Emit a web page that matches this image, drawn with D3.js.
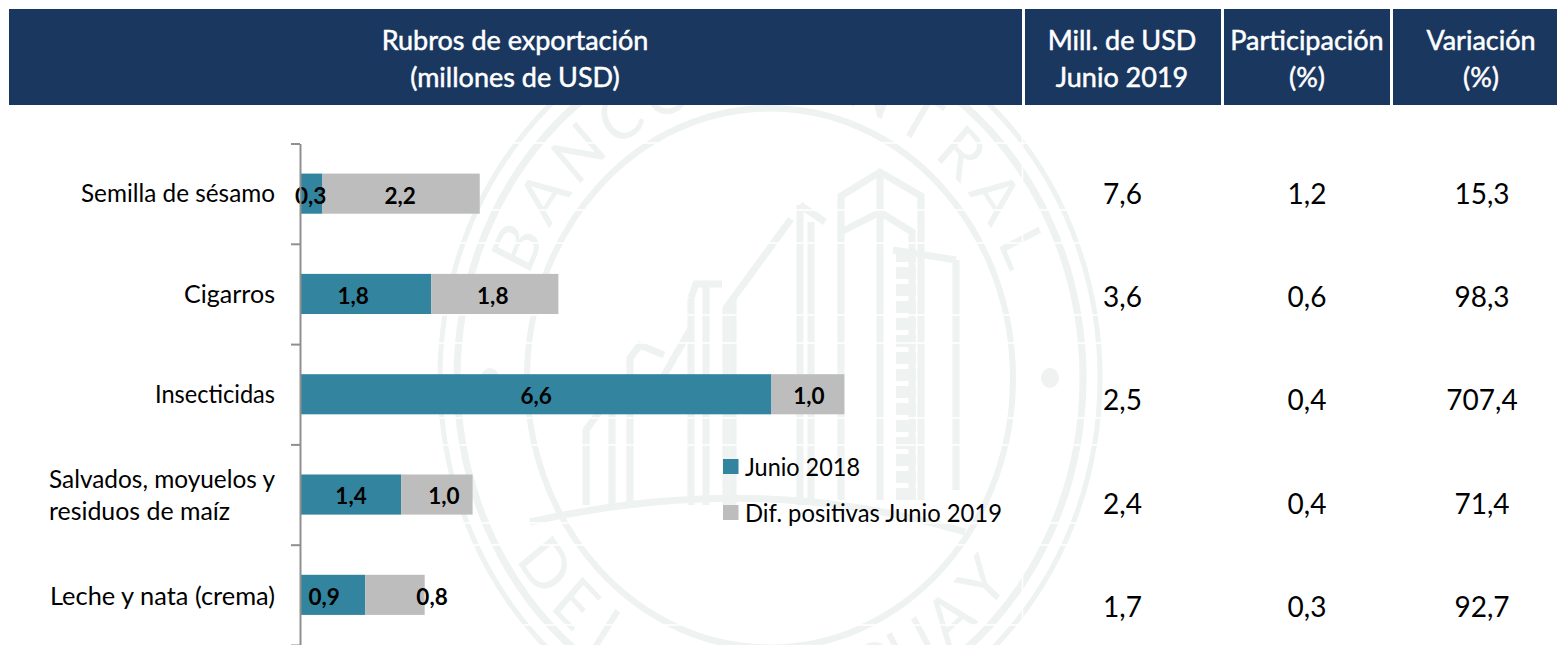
<!DOCTYPE html>
<html lang="es">
<head>
<meta charset="utf-8">
<title>Rubros de exportación</title>
<script src="https://d3js.org/d3.v7.min.js"></script>
<style>
html,body{margin:0;padding:0;background:#fff;overflow:hidden}
svg{display:block}
text{font-family:Lato,"Noto Sans",sans-serif}
</style>
</head>
<body>
<svg id="chart" width="1557" height="645"></svg>
<script>
// ---- data ----
const categories = ["Semilla de sésamo","Cigarros","Insecticidas","Salvados, moyuelos y residuos de maíz","Leche y nata (crema)"];
const junio2018 = [0.3,1.82,6.58,1.4,0.9];
const difPositivas = [2.2,1.78,1.02,1.0,0.83];
const difLabels = ["2,2","1,8","1,0","1,0","0,8"];
const junioLabels = ["0,3","1,8","6,6","1,4","0,9"];
const millUSD = ["7,6","3,6","2,5","2,4","1,7"];
const participacion = ["1,2","0,6","0,4","0,4","0,3"];
const variacion = ["15,3","98,3","707,4","71,4","92,7"];
const legendLabels = ["Junio 2018","Dif. positivas Junio 2019"];
const headers = [["Rubros de exportación","(millones de USD)"],["Mill. de USD","Junio 2019"],["Participación","(%)"],["Variación","(%)"]];

// ---- layout (not data) ----
const navy="#19375f", teal="#33849f", grey="#bdbdbd", wm="#eef2f0";
const headerCells=[[9,1022],[1025,1221],[1224,1390],[1393,1557]];
const headerCentres=[515,1122,1307,1481];
const junioDx=[-1,-13,0,0,-9], difDx=[-1,-2,1,7,37];
const labelFont=24.5;

const svg=d3.select("#chart");
const x=d3.scaleLinear().domain([0,8]).range([301,873]);
const yBand=d3.scaleBand().domain(categories).range([143.5,645]).paddingInner(0.6).paddingOuter(0.3);
const yRow=d3.scalePoint().domain(categories).range([194,607]);
const yTicks=d3.scaleLinear().domain([0,5]).range([143.5,645]);

// ---- watermark seal ----
const seal=svg.append("g").attr("transform","translate(770,378) scale(1,1.11)")
  .attr("fill","none").attr("stroke",wm);
[[330,5],[313,7],[243,6]].forEach(([r,w])=>seal.append("circle").attr("r",r).attr("stroke-width",w));
// seal lettering: one glyph at a time around the ring
[["BANCO CENTRAL",-65,65,-258],["DEL PARAGUAY",53,-49,302]].forEach(([t,a0,a1,r])=>{
  const chars=Array.from(t);
  const angle=d3.scaleLinear().domain([0,chars.length-1]).range([a0,a1]);
  seal.append("g").selectAll("text").data(chars).join("text")
    .attr("transform",(c,i)=>`rotate(${angle(i)}) translate(0,${r})`)
    .attr("fill",wm).attr("stroke","none").attr("font-size",60).attr("text-anchor","middle")
    .text(c=>c);
});
[-280,280].forEach(c=>seal.append("circle").attr("cx",c).attr("r",9).attr("fill",wm).attr("stroke","none"));
const building=[
 "M841,500V196L880,172L921,196V500","M841,232L880,212L912,232V500","M880,172V500",
 "M800,205V505M811,222V505M800,205L825,222M791,219L726,308V505","M733,300V505",
 "M956,260V490M893,250L956,260",
 "M691,298L696,284H722M691,298V505M706,285V505",
 "M664,355L640,345L630,358V505M690,330L650,400",
 "M586,505V430L612,395V505M612,430V490",
 "M530,522Q760,470 965,532"
];
svg.append("g").attr("fill","none").attr("stroke",wm).attr("stroke-width",7)
  .selectAll("path").data(building).join("path").attr("d",d=>d);
svg.append("g").attr("stroke",wm).attr("stroke-width",20).attr("stroke-dasharray","12 5")
  .append("line").attr("x1",906).attr("x2",906).attr("y1",250).attr("y2",500);
// faint white rules that cross the seal
svg.append("g").attr("stroke","#fff").attr("stroke-width",1.5)
  .selectAll("line").data([143,210,243,315,343,418,445,523,545,625]).join("line")
  .attr("x1",430).attr("x2",1110).attr("y1",d=>d).attr("y2",d=>d);
svg.append("line").attr("x1",1022.5).attr("x2",1022.5).attr("y1",105).attr("y2",645).attr("stroke","#fff").attr("stroke-width",1.5);

// ---- header ----
const head=svg.append("g").selectAll("g").data(headers).join("g");
head.append("rect").attr("x",(d,i)=>headerCells[i][0]).attr("y",9)
  .attr("width",(d,i)=>headerCells[i][1]-headerCells[i][0]).attr("height",96).attr("fill",navy);
head.selectAll("text").data((d,i)=>d.map(t=>({t,i}))).join("text")
  .attr("x",d=>headerCentres[d.i])
  .attr("y",(d,j)=>41+j*37).attr("dy","0.35em").attr("text-anchor","middle")
  .attr("fill","#fff").attr("stroke","#fff").attr("stroke-width",0.5)
  .attr("font-size",27).text(d=>d.t);

// ---- bars ----
const rows=svg.append("g").selectAll("g").data(categories).join("g");
rows.append("rect").attr("x",x(0)).attr("y",d=>yBand(d)).attr("height",yBand.bandwidth())
  .attr("width",(d,i)=>x(junio2018[i])-x(0)).attr("fill",teal);
rows.append("rect").attr("x",(d,i)=>x(junio2018[i])).attr("y",d=>yBand(d)).attr("height",yBand.bandwidth())
  .attr("width",(d,i)=>x(junio2018[i]+difPositivas[i])-x(junio2018[i])).attr("fill",grey);

// ---- axis ----
const axis=svg.append("g").attr("transform","translate(300,0)")
  .call(d3.axisLeft(yTicks).tickValues([0,1,2,3,4,5]).tickFormat("").tickSize(9).tickSizeOuter(0));
axis.selectAll("path,line").attr("stroke","#8f8f8f").attr("stroke-width",2);

// ---- value labels ----
const valueText=(sel,fx,labels)=>sel.append("text")
  .attr("x",fx).attr("y",d=>yBand(d)+yBand.bandwidth()/2+2).attr("dy","0.35em")
  .attr("text-anchor","middle").attr("font-size",22.5).attr("font-weight",700).attr("fill","#000")
  .text((d,i)=>labels[i]);
valueText(rows,(d,i)=>(x(0)+x(junio2018[i]))/2+junioDx[i],junioLabels);
valueText(rows,(d,i)=>(x(junio2018[i])+x(junio2018[i]+difPositivas[i]))/2+difDx[i],difLabels);

// ---- category labels ----
const catLines=[["Semilla de sésamo"],["Cigarros"],["Insecticidas"],["Salvados, moyuelos y","residuos de maíz"],["Leche y nata (crema)"]];
const catWidths=[[194],[91],[120],[226,181],[225]];
const catNudge=[0,0,0,1,2];
rows.each(function(d,i){
  const g=d3.select(this), lines=catLines[i], two=lines.length>1;
  lines.forEach((t,j)=>g.append("text")
    .attr("x",two?49:275).attr("text-anchor",two?"start":"end")
    .attr("y",(two?yBand(d)+4+j*31.5:yBand(d)+yBand.bandwidth()/2)+catNudge[i])
    .attr("dy","0.35em").attr("font-size",labelFont).attr("fill","#000")
    .attr("textLength",catWidths[i][j]).attr("lengthAdjust","spacingAndGlyphs").text(t));
});

// ---- right columns ----
[[millUSD,1122.5],[participacion,1307],[variacion,1482]].forEach(([vals,cx])=>{
  svg.append("g").selectAll("text").data(categories).join("text")
    .attr("x",cx).attr("y",d=>yRow(d)).attr("dy","0.35em").attr("text-anchor","middle")
    .attr("font-size",28).attr("fill","#000").text((d,i)=>vals[i]);
});

// ---- legend ----
const legendWidths=[115,257];
const lg=svg.append("g").selectAll("g").data(legendLabels).join("g")
  .attr("transform",(d,i)=>`translate(723,${459+i*46})`);
lg.append("rect").attr("width",15.5).attr("height",15).attr("fill",(d,i)=>[teal,grey][i]);
lg.append("text").attr("x",22).attr("y",8).attr("dy","0.35em").attr("font-size",labelFont).attr("fill","#000")
  .attr("textLength",(d,i)=>legendWidths[i]).attr("lengthAdjust","spacingAndGlyphs").text(d=>d);
</script>
</body>
</html>
